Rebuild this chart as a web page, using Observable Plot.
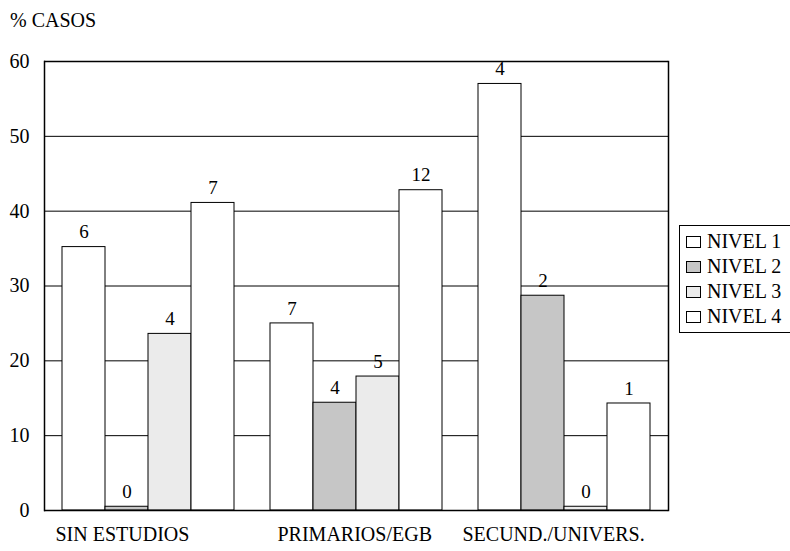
<!DOCTYPE html>
<html>
<head>
<meta charset="utf-8">
<script src="https://cdn.jsdelivr.net/npm/d3@7"></script>
<script src="https://cdn.jsdelivr.net/npm/@observablehq/plot@0.6"></script>
<style>
  html, body { margin: 0; padding: 0; background: #fff; overflow: hidden; }
  #wrap { position: relative; width: 790px; height: 551px; font-family: "Liberation Serif", "DejaVu Serif", "Times New Roman", Times, serif; color: #000; }
  #ytitle { position: absolute; left: 10px; top: 8px; font-size: 20px; line-height: 24px; }
  #legend { position: absolute; left: 679px; top: 225px; width: 130px; border: 1.5px solid #000; padding: 3px 0 3px 6px; font-size: 20px; background: #fff; }
  .row { display: flex; align-items: center; height: 25px; white-space: nowrap; }
  .sw { width: 13px; height: 10px; border: 1px solid #000; margin-right: 6px; }
</style>
</head>
<body>
<div id="wrap">
  <div id="ytitle">% CASOS</div>
  <div id="legend"></div>
</div>
<script>
const groups = ["SIN ESTUDIOS", "PRIMARIOS/EGB", "SECUND./UNIVERS."];
const series = ["NIVEL 1", "NIVEL 2", "NIVEL 3", "NIVEL 4"];
const nivel1 = [35.2, 25.0, 57.0];
const nivel2 = [0.5, 14.4, 28.7];
const nivel3 = [23.6, 17.9, 0.5];
const nivel4 = [41.1, 42.8, 14.3];
const casos1 = [6, 7, 4];
const casos2 = [0, 4, 2];
const casos3 = [4, 5, 0];
const casos4 = [7, 12, 1];
const yTicks = [0, 10, 20, 30, 40, 50, 60];
const fills = ["#ffffff", "#c6c6c6", "#ebebeb", "#ffffff"];

const values = [nivel1, nivel2, nivel3, nivel4];
const casos = [casos1, casos2, casos3, casos4];
const data = groups.flatMap((g, i) => series.map((s, j) => ({group: g, nivel: s, value: values[j][i], n: casos[j][i]})));

const FONT = "'Liberation Serif', 'DejaVu Serif', 'Times New Roman', Times, serif";

const chart = Plot.plot({
  width: 790,
  height: 551,
  marginLeft: 43,
  marginRight: 121,
  marginTop: 61,
  marginBottom: 41,
  style: {fontFamily: FONT, fontSize: "20px", color: "#000", background: "transparent"},
  fx: {domain: groups, padding: 0, axis: null},
  x: {domain: series, paddingInner: 0, paddingOuter: 0.41, axis: null},
  y: {domain: [0, 60], axis: null},
  color: {domain: series, range: fills},
  marks: [
    Plot.gridY(yTicks.slice(1, -1), {stroke: "#000", strokeOpacity: 1, strokeWidth: 1}),
    Plot.barY(data, {fx: "group", x: "nivel", y: "value", fill: "nivel", stroke: "#000", strokeWidth: 1}),
    Plot.text(data, {fx: "group", x: "nivel", y: "value", text: "n", dy: -15, fontSize: 19}),
    Plot.ruleY([0, 60], {stroke: "#000", strokeWidth: 1.5}),
    Plot.frame({anchor: "left", fx: () => groups[0], stroke: "#000", strokeWidth: 1.5}),
    Plot.frame({anchor: "right", fx: () => groups[2], stroke: "#000", strokeWidth: 1.5}),
    Plot.axisY(yTicks, {tickSize: 0, tickPadding: 15, fontSize: 20, label: null}),
    Plot.text([groups[0]], {fx: d => d, text: d => d, frameAnchor: "bottom-left", textAnchor: "start", dx: 11, dy: 30, fontSize: 20}),
    Plot.text([groups[1]], {fx: d => d, text: d => d, frameAnchor: "bottom-left", textAnchor: "start", dx: 25, dy: 30, fontSize: 20}),
    Plot.text([groups[2]], {fx: d => d, text: d => d, frameAnchor: "bottom-left", textAnchor: "start", dx: 2, dy: 30, fontSize: 20})
  ]
});
chart.style.position = "absolute";
chart.style.left = "0";
chart.style.top = "0";
const wrap = document.getElementById("wrap");
wrap.insertBefore(chart, wrap.firstChild);

const legend = document.getElementById("legend");
series.forEach((s, j) => {
  const row = document.createElement("div");
  row.className = "row";
  const sw = document.createElement("span");
  sw.className = "sw";
  sw.style.background = fills[j];
  const t = document.createElement("span");
  t.textContent = s;
  row.appendChild(sw);
  row.appendChild(t);
  legend.appendChild(row);
});
</script>
</body>
</html>
